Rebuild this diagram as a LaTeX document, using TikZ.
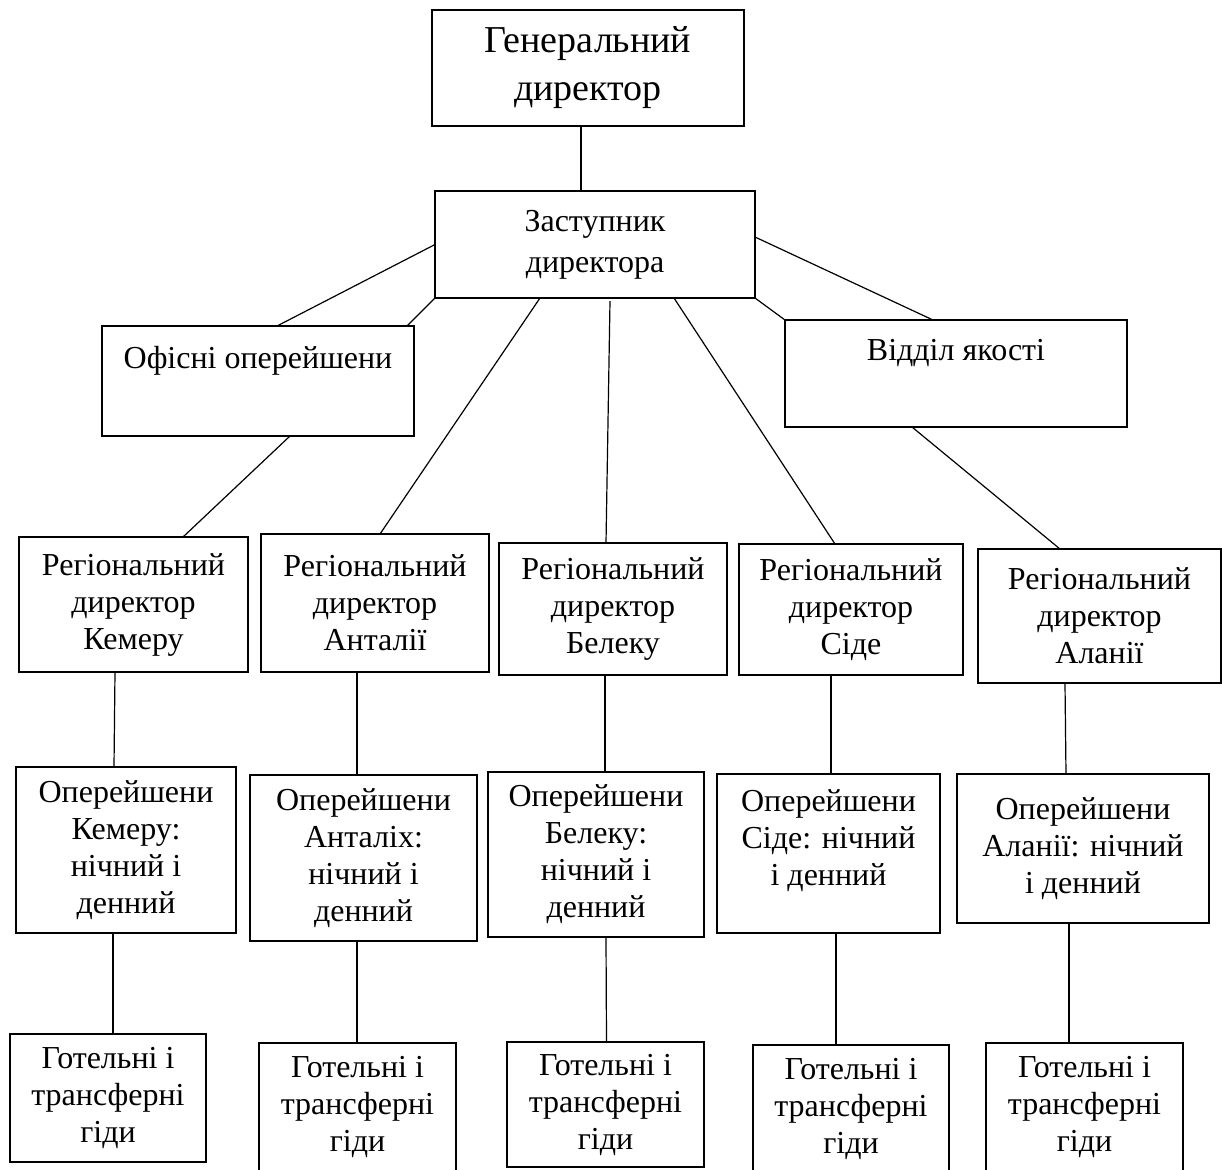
\documentclass[tikz,border=0pt]{standalone}
\usepackage{fontspec}
\setmainfont{Liberation Serif}
\usepackage{tikz}

\begin{document}
\begin{tikzpicture}[x=0.5pt,y=-0.5pt,
  unit/.style={draw,line width=0.7pt,align=center,inner sep=0pt,outer sep=0pt,
    font=\fontsize{16}{18.5}\selectfont},
  link/.style={line width=0.6pt}]
\useasboundingbox (0,0) rectangle (1222,1169);
% top
\node[unit,minimum width=156pt,minimum height=58pt,font=\fontsize{19}{24}\selectfont] (gen) at (588,68) {Генеральний\\директор};
\node[unit,minimum width=160pt,minimum height=53.5pt,font=\fontsize{16}{20.5}\selectfont] (zast) at (595,244.5) {Заступник\\директора};
\node[unit,minimum width=156pt,minimum height=55pt] (ofis) at (258,381) {Офісні оперейшени\\\strut};
\node[unit,minimum width=171pt,minimum height=53.5pt] (vid) at (956,373.5) {Відділ якості\\\strut};
% regions
\node[unit,minimum width=114.5pt,minimum height=67.5pt] (rkem) at (133.5,604.5) {Регіональний\\директор\\Кемеру};
\node[unit,minimum width=114pt,minimum height=69pt] (rant) at (375,603) {Регіональний\\директор\\Анталії};
\node[unit,minimum width=114pt,minimum height=66pt] (rbel) at (613,609) {Регіональний\\директор\\Белеку};
\node[unit,minimum width=112pt,minimum height=65.5pt] (rsid) at (851,609.5) {Регіональний\\директор\\Сіде};
\node[unit,minimum width=121.5pt,minimum height=67pt] (ralan) at (1099.5,616) {Регіональний\\директор\\Аланії};
% operations
\node[unit,minimum width=110pt,minimum height=83pt] (okem) at (126,850) {Оперейшени\\Кемеру:\\нічний і\\денний};
\node[unit,minimum width=113.5pt,minimum height=83pt] (oant) at (363.5,858) {Оперейшени\\Анталіх:\\нічний і\\денний};
\node[unit,minimum width=108pt,minimum height=82.5pt] (obel) at (596,854.5) {Оперейшени\\Белеку:\\нічний і\\денний};
\node[unit,minimum width=111.5pt,minimum height=79.5pt] (osid) at (828.5,853.5) {Оперейшени\\Сіде: нічний\\і денний\\[-8.5pt]\strut};
\node[unit,minimum width=126pt,minimum height=74.5pt] (oalan) at (1083,848.5) {Оперейшени\\Аланії: нічний\\і денний};
% guides
\node[unit,minimum width=98pt,minimum height=64pt] (gkem) at (108,1098) {Готельні і\\трансферні\\гіди};
\node[unit,minimum width=98.5pt,minimum height=64pt] (gant) at (357.5,1107) {Готельні і\\трансферні\\гіди};
\node[unit,minimum width=98.5pt,minimum height=62.5pt] (gbel) at (605.5,1104.5) {Готельні і\\трансферні\\гіди};
\node[unit,minimum width=98pt,minimum height=64pt] (gsid) at (851,1109) {Готельні і\\трансферні\\гіди};
\node[unit,minimum width=98.5pt,minimum height=64pt] (galan) at (1084.5,1107) {Готельні і\\трансферні\\гіди};

\draw[link] ([xshift=-3.5pt]gen.south) -- ([xshift=-7pt]zast.north);
\draw[link] (zast.west) -- ([xshift=9.5pt]ofis.north);
\draw[link] (zast.south west) -- ([xshift=-3.5pt]ofis.north east);
\draw[link] ([xshift=-27.5pt]zast.south) -- ([xshift=2.5pt]rant.north);
\draw[link] ([xshift=7.5pt,yshift=-1.5pt]zast.south) -- ([xshift=-3.5pt]rbel.north);
\draw[link] ([xshift=39.5pt]zast.south) -- ([xshift=-8pt]rsid.north);
\draw[link] (zast.south east) -- (vid.north west);
\draw[link] ([yshift=3.75pt]zast.east) -- ([xshift=-11.5pt]vid.north);
\draw[link] ([xshift=16pt]ofis.south) -- ([xshift=24.75pt]rkem.north);
\draw[link] ([xshift=-22pt]vid.south) -- ([xshift=-19.75pt]ralan.north);
% down the columns
\draw[link] ([xshift=-9.25pt]rkem.south) -- ([xshift=-6pt]okem.north);
\draw[link] ([xshift=-9pt]rant.south) -- ([xshift=-3.25pt]oant.north);
\draw[link] ([xshift=-4pt]rbel.south) -- ([xshift=4.5pt]obel.north);
\draw[link] ([xshift=-10pt]rsid.south) -- ([xshift=1.25pt]osid.north);
\draw[link] ([xshift=-17.25pt]ralan.south) -- ([xshift=-8.5pt]oalan.north);
\draw[link] ([xshift=-6.5pt]okem.south) -- ([xshift=2.5pt]gkem.north);
\draw[link] ([xshift=-3.25pt]oant.south) -- ([xshift=-0.25pt]gant.north);
\draw[link] ([xshift=5pt]obel.south) -- ([xshift=0.5pt]gbel.north);
\draw[link] ([xshift=3.75pt]osid.south) -- ([xshift=-7.5pt]gsid.north);
\draw[link] ([xshift=-7pt]oalan.south) -- ([xshift=-7.75pt]galan.north);
\end{tikzpicture}
\end{document}
